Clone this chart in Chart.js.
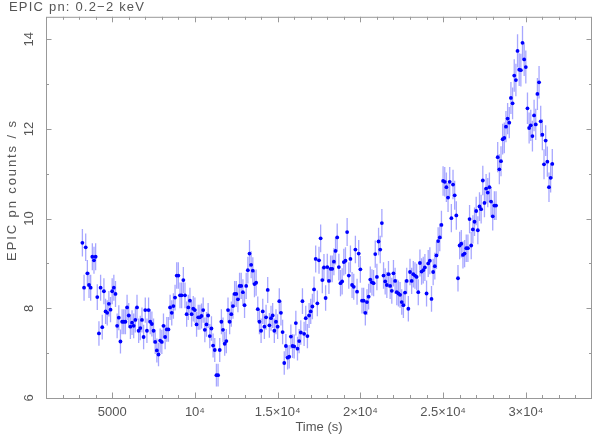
<!DOCTYPE html>
<html>
<head>
<meta charset="utf-8">
<script src="https://cdn.jsdelivr.net/npm/chart.js@4.4.1/dist/chart.umd.min.js"></script>
<style>
    html, body { margin: 0; padding: 0; background: #fff; }
    #wrap { width: 596px; height: 436px; }
</style>
</head>
<body>
<div id="wrap"><canvas id="lc" width="596" height="436"></canvas></div>
<script>
const plotTitle = 'EPIC pn: 0.2\u22122 keV';
const xTitle = 'Time (s)';
const yTitle = 'EPIC pn counts / s';

// light curve, 100 s bins starting at t = 3200 s
const binStart = 3200;
const binWidth = 100;
const countRate = [
    9.46, 8.46, 9.36, 8.78, 8.52, 8.46, 9.15, 9.07, 9.15, 8.25,
    7.44, 8.46, 7.58, 8.38, 7.93, 7.90, 8.10, 7.97, 8.38, 8.46,
    8.32, 7.61, 7.79, 7.26, 7.70, 7.70, 7.70, 8.02, 7.84, 7.59,
    7.68, 7.61, 7.74, 8.02, 7.50, 7.56, 7.74, 7.36,
    7.96, 7.50, 7.96, 7.70, 7.65, 7.50, 7.25, 7.06, 6.97, 7.28,
    7.25, 7.61, 7.36, 7.53, 7.53, 8.02, 7.90, 8.05, 8.24, 8.73,
    8.73, 8.29, 8.29, 8.63, 8.29, 7.87, 8.02, 8.17, 7.87, 7.99,
    7.96, 7.64, 7.80, 7.80, 7.83, 7.96, 7.52, 7.64, 7.84, 7.38,
    7.55, 7.17, 7.07, 6.51, 6.51, 7.07, 7.70, 7.52, 7.21, 7.27,
    7.96, 7.70, 7.87, 8.05, 8.32, 8.32, 8.20, 8.50, 8.50, 8.36,
    8.07, 8.50,
    8.85, 9.22, 8.97, 8.84, 8.54, 8.57, 7.98, 7.70, 7.50, 7.93,
    7.59, 7.80, 8.41, 7.62, 7.78, 7.84, 7.50, 7.70, 7.59, 8.16,
    7.90, 7.47, 6.78, 7.16, 6.90, 6.92, 7.37, 7.16, 7.15, 7.67, 7.10,
    7.27, 7.46, 8.16, 7.43, 7.78, 7.38, 7.84, 7.93, 8.04, 8.42,
    9.10, 8.11, 9.07, 9.56, 8.63, 8.91, 8.23, 8.92, 8.61, 8.88,
    8.88, 9.04, 9.28, 9.58, 8.92, 8.56, 8.60, 9.03, 9.06, 9.70,
    8.73, 9.10, 8.52, 8.48, 9.31, 8.37, 9.22, 8.87, 8.17, 8.17,
    7.90, 8.14, 8.26, 8.64, 8.58, 8.56, 9.21, 8.70, 9.49, 9.31,
    9.90, 8.73, 8.60, 8.52, 8.76, 8.50, 8.39, 8.78, 8.61, 8.36, 8.33,
    8.30, 8.14, 8.07, 8.35, 8.61, 7.99, 8.81, 8.61, 8.76, 8.73,
    8.70, 8.36, 9.01, 8.82, 8.85, 8.91, 8.33, 9.00, 9.06, 8.21,
    8.81, 8.94, 9.18, 9.50, 9.58, 9.86, 10.84, 10.82, 10.70, 10.47, 10.82,
    10.01, 10.76, 10.52, 10.07, 8.67, 9.40, 9.44, 9.19, 9.22, 9.34,
    9.34, 9.99, 9.40, 9.76, 9.93, 10.17, 9.74, 10.27, 10.21, 10.85,
    10.35, 10.67, 10.58, 10.70, 10.38, 10.05, 10.29, 10.29,
    11.37, 11.10, 11.28, 11.77, 11.80, 12.05, 12.23, 12.14, 12.69, 12.57,
    13.19, 13.09, 13.74, 13.32, 13.31, 13.92, 13.55, 13.38, 12.46, 12.02,
    12.08, 11.84, 12.30, 12.10, 12.78, 13.04, 12.17, 11.87, 11.21, 11.74,
    11.27, 10.70, 10.91, 11.22
];

const xTickValues = [5000, 10000, 15000, 20000, 25000, 30000];
const xTickLabels = ['5000', '10\u2074', '1.5\u00d710\u2074', '2\u00d710\u2074', '2.5\u00d710\u2074', '3\u00d710\u2074'];
const yTickValues = [6, 8, 10, 12, 14];
const yTickLabels = ['6', '8', '10', '12', '14'];

const textColor = '#555';
const frameColor = '#999';
const baseFont = { family: "'Liberation Sans', Arial, sans-serif", size: 13 };

const points = countRate.map((r, i) => ({
    x: binStart + i * binWidth,
    y: r,
    err: Math.sqrt(r / binWidth)   // poisson error for a 100 s bin
}));

// vertical error bars, drawn under the dots
const errorBars = {
    id: 'errorBars',
    beforeDatasetsDraw(chart) {
        const { ctx, scales: { x, y } } = chart;
        ctx.save();
        ctx.strokeStyle = 'rgba(60, 60, 255, 0.45)';
        ctx.lineWidth = 1.3;
        ctx.beginPath();
        points.forEach(p => {
            const px = x.getPixelForValue(p.x);
            ctx.moveTo(px, y.getPixelForValue(p.y - p.err));
            ctx.lineTo(px, y.getPixelForValue(p.y + p.err));
        });
        ctx.stroke();
        ctx.restore();
    }
};

// box round the plot with inward ticks on all four sides, title and y label
const frame = {
    id: 'frame',
    afterDraw(chart) {
        const { ctx, chartArea: a, scales: { x, y } } = chart;
        ctx.save();
        ctx.strokeStyle = frameColor;
        ctx.lineWidth = 1;
        ctx.strokeRect(a.left + 0.5, a.top + 0.5, a.right - a.left - 1, a.bottom - a.top);
        ctx.beginPath();
        for (let t = 2000; t <= 33000; t += 1000) {
            const px = Math.round(x.getPixelForValue(t)) + 0.5;
            const len = t % 5000 === 0 ? 5.5 : 3;
            ctx.moveTo(px, a.bottom); ctx.lineTo(px, a.bottom - len);
            ctx.moveTo(px, a.top); ctx.lineTo(px, a.top + len);
        }
        for (let v = 7; v <= 14; v += 1) {
            const py = Math.round(y.getPixelForValue(v)) + 0.5;
            const len = v % 2 === 0 ? 5.5 : 3;
            ctx.moveTo(a.left, py); ctx.lineTo(a.left + len, py);
            ctx.moveTo(a.right, py); ctx.lineTo(a.right - len, py);
        }
        ctx.stroke();

        ctx.fillStyle = textColor;
        ctx.font = `${baseFont.size}px ${baseFont.family}`;
        ctx.textBaseline = 'alphabetic';
        ctx.letterSpacing = '1.2px';
        ctx.fillText(plotTitle, 9, 11);

        ctx.letterSpacing = '1.9px';
        ctx.translate(12, 190);
        ctx.rotate(-Math.PI / 2);
        ctx.textAlign = 'center';
        ctx.textBaseline = 'middle';
        ctx.fillText(yTitle, 0, 0);
        ctx.restore();
    }
};

new Chart(document.getElementById('lc'), {
    type: 'scatter',
    data: {
        datasets: [{
            data: points,
            pointRadius: 1.9,
            pointBackgroundColor: '#0000ff',
            pointBorderWidth: 0,
            showLine: false
        }]
    },
    options: {
        responsive: false,
        animation: false,
        devicePixelRatio: 1,
        layout: { padding: { top: 16, right: 1, left: 0, bottom: 0 } },
        plugins: {
            legend: { display: false },
            tooltip: { enabled: false }
        },
        scales: {
            x: {
                type: 'linear',
                min: 1000,
                max: 34000,
                afterFit: s => { s.height = 38; },
                afterBuildTicks: s => { s.ticks = xTickValues.map(v => ({ value: v })); },
                grid: { display: false, drawTicks: false },
                border: { display: false },
                ticks: {
                    autoSkip: false,
                    maxRotation: 0,
                    padding: 7,
                    color: textColor,
                    font: baseFont,
                    callback: (v, i) => xTickLabels[i]
                },
                title: { display: true, text: xTitle, color: textColor, font: baseFont, padding: { top: 0, bottom: 1 } }
            },
            y: {
                min: 6,
                max: 14.5,
                afterFit: s => { s.width = 46; },
                afterBuildTicks: s => { s.ticks = yTickValues.map(v => ({ value: v })); },
                grid: { display: false, drawTicks: false },
                border: { display: false },
                ticks: {
                    minRotation: 90,
                    maxRotation: 90,
                    crossAlign: 'center',
                    padding: 9,
                    color: textColor,
                    font: baseFont,
                    callback: (v, i) => yTickLabels[i]
                }
            }
        }
    },
    plugins: [errorBars, frame]
});
</script>
</body>
</html>
